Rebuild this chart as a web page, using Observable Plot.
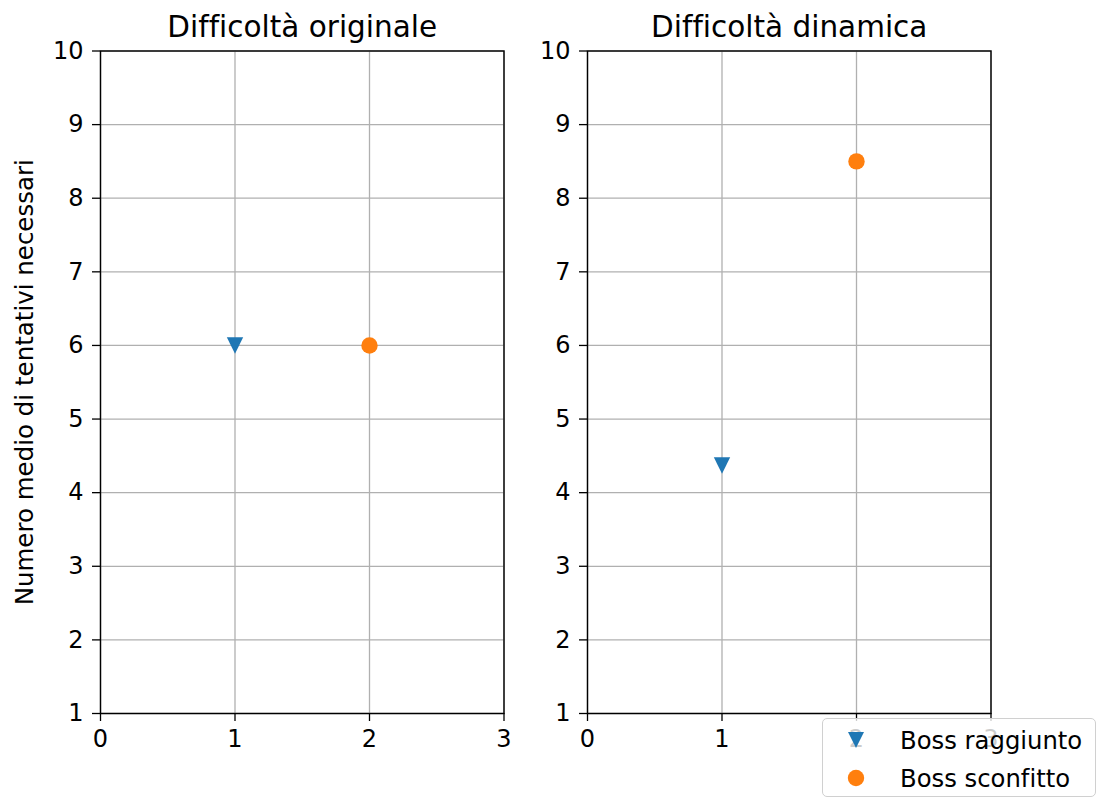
<!DOCTYPE html>
<html>
<head>
<meta charset="utf-8">
<script src="https://cdn.jsdelivr.net/npm/d3@7"></script>
<script src="https://cdn.jsdelivr.net/npm/@observablehq/plot@0.6"></script>
<style>
  html, body { margin: 0; padding: 0; background: white; }
  #wrap { position: relative; width: 1100px; height: 798px; overflow: hidden; font-family: "DejaVu Sans", sans-serif; font-variant-ligatures: none; }
  .panel { position: absolute; top: 0; font-variant-ligatures: none; }
  .panel text { font-variant-ligatures: none; }
  #legend {
    position: absolute; left: 822px; top: 718px; width: 274px; height: 79px;
    background: rgba(255,255,255,0.8); border: 1.3px solid #d0d0d0; border-radius: 5px;
    box-sizing: border-box; font-family: "DejaVu Sans", sans-serif; font-size: 24.3px; color: #000;
  }
  .item { position: absolute; left: 0; height: 30px; display: flex; align-items: center; }
  .item svg { position: absolute; left: 21px; }
  .item span { position: absolute; left: 77px; white-space: nowrap; }
</style>
</head>
<body>
<div id="wrap"></div>
<script>
// ---- data ----
const panelTitles = ["Difficoltà originale", "Difficoltà dinamica"];
const seriesNames = ["Boss raggiunto", "Boss sconfitto"];
const seriesColors = ["#1f77b4", "#ff7f0e"];
const xPositions = [1, 2];
const originaleValues = [6, 6];
const dinamicaValues = [4.37, 8.5];
const xTicks = [0, 1, 2, 3];
const yTicks = [1, 2, 3, 4, 5, 6, 7, 8, 9, 10];
const yLabel = "Numero medio di tentativi necessari";

const triangleDown = {
  draw(ctx, size) {
    const r = Math.sqrt(size / Math.PI);
    ctx.moveTo(-r, -r);
    ctx.lineTo(r, -r);
    ctx.lineTo(0, r);
    ctx.closePath();
  }
};
const symbols = [triangleDown, "circle"];

const panelValues = [originaleValues, dinamicaValues];
const wrap = document.getElementById("wrap");

panelValues.forEach((vals, pi) => {
  const data = vals.map((v, i) => ({x: xPositions[i], y: v, s: i}));
  const marks = [
    Plot.gridX(xTicks, {stroke: "#b0b0b0", strokeOpacity: 1, strokeWidth: 1.3}),
    Plot.gridY(yTicks, {stroke: "#b0b0b0", strokeOpacity: 1, strokeWidth: 1.3}),
    Plot.axisX(xTicks, {tickSize: 8, tickPadding: 8, tickFormat: d3.format("d"), fontSize: 24, label: null, stroke: "black", strokeWidth: 1.3, fill: "black"}),
    Plot.axisY(yTicks, {tickSize: 8, tickPadding: 9, tickFormat: d3.format("d"), fontSize: 24, label: null, stroke: "black", strokeWidth: 1.3, fill: "black"}),
    Plot.frame({stroke: "black", strokeWidth: 1.4}),
    Plot.text([panelTitles[pi]], {frameAnchor: "top", lineAnchor: "middle", dy: -23, fontSize: 29.5, fill: "black", text: d => d}),
    ...data.map(d => Plot.dot([d], {x: "x", y: "y", symbol: () => symbols[d.s], fill: seriesColors[d.s], stroke: "none", r: 8.2}))
  ];
  if (pi === 0) {
    marks.push(Plot.text([yLabel], {frameAnchor: "left", dx: -75, rotate: -90, textAnchor: "middle", fontSize: 24.5, fill: "black", text: d => d}));
  }
  const chart = Plot.plot({
    width: 540,
    height: 798,
    marginLeft: 100,
    marginRight: 36.5,
    marginTop: 50.5,
    marginBottom: 85,
    style: {background: "transparent", fontFamily: "DejaVu Sans", color: "black", overflow: "visible"},
    x: {domain: [0, 3]},
    y: {domain: [1, 10]},
    symbol: {type: "identity"},
    marks
  });
  chart.classList.add("panel");
  chart.style.left = (pi === 0 ? 0 : 487) + "px";
  wrap.appendChild(chart);
});

// legend
const legend = document.createElement("div");
legend.id = "legend";
seriesNames.forEach((name, i) => {
  const item = document.createElement("div");
  item.className = "item";
  item.style.top = (i === 0 ? 6 : 44) + "px";
  item.style.width = "100%";
  const sym = d3.create("svg").attr("width", 24).attr("height", 24);
  const g = sym.append("g").attr("transform", "translate(12,12)");
  if (i === 0) g.append("path").attr("d", "M-8,-8L8,-8L0,8Z").attr("fill", seriesColors[0]);
  else g.append("circle").attr("r", 8.2).attr("fill", seriesColors[1]);
  item.appendChild(sym.node());
  const span = document.createElement("span");
  span.textContent = name;
  item.appendChild(span);
  legend.appendChild(item);
});
wrap.appendChild(legend);
</script>
</body>
</html>
